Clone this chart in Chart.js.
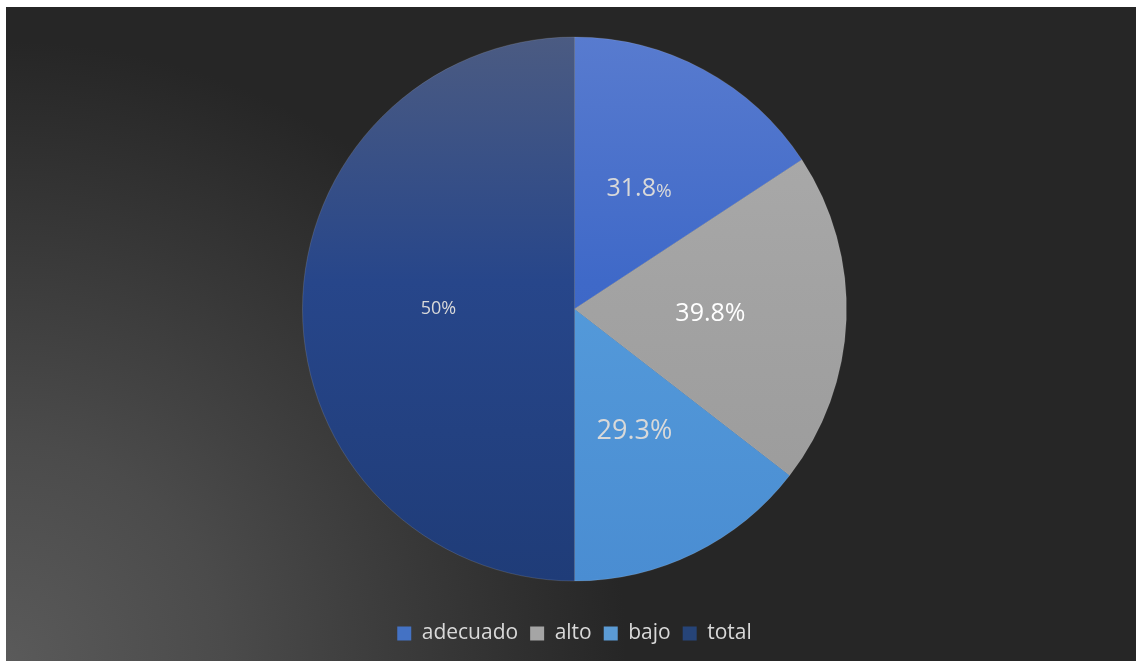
<!DOCTYPE html>
<html>
<head>
<meta charset="utf-8">
<script src="https://cdn.jsdelivr.net/npm/chart.js@4"></script>
<style>
  html, body { margin: 0; padding: 0; background: #ffffff; }
  #wrap { width: 1136px; height: 661px; position: relative; }
</style>
</head>
<body>
<div id="wrap"><canvas id="chart"></canvas></div>
<script>
// Chart data
const categories = ['adecuado', 'alto', 'bajo', 'total'];
const values = [31.8, 39.8, 29.3, 100.9];

// colour stops (top -> bottom of the pie) per slice
const sliceColors = [
    ['#587bcf', '#3f69c8', '#3660c2'],
    ['#adadad', '#a3a3a3', '#999999'],
    ['#5ca1e0', '#549ada', '#4a8dd2'],
    ['#4b5b82', '#27468a', '#1f3c78']
];
const legendColors = ['#4472c4', '#a5a5a5', '#5b9bd5', '#264478'];

function sliceGradient(ctx) {
    const chart = ctx.chart;
    const area = chart.chartArea;
    const c = sliceColors[ctx.dataIndex];
    if (!area) return c[1];
    const cy = (area.top + area.bottom) / 2;
    const r = Math.min(area.right - area.left, area.bottom - area.top) / 2;
    if (!isFinite(cy) || !isFinite(r) || r <= 0) return c[1];
    const g = chart.ctx.createLinearGradient(0, cy - r, 0, cy + r);
    g.addColorStop(0, c[0]);
    g.addColorStop(0.45, c[1]);
    g.addColorStop(1, c[2]);
    return g;
}

// dark background with lighter glow in the bottom-left corner
const backgroundPlugin = {
    id: 'bg',
    beforeDraw(chart) {
        const ctx = chart.ctx;
        ctx.save();
        ctx.fillStyle = '#ffffff';
        ctx.fillRect(0, 0, chart.width, chart.height);
        const g = ctx.createRadialGradient(6, chart.height, 0, 6, chart.height, 620);
        g.addColorStop(0, '#5a5a5a');
        g.addColorStop(0.35, '#4b4b4b');
        g.addColorStop(1, '#262626');
        ctx.fillStyle = g;
        ctx.fillRect(6, 7, chart.width - 6, chart.height - 7);
        ctx.restore();
    }
};

// value labels inside the slices
const labelStyles = [
    { size: 25, pct: 19, color: '#d9d9d9' },
    { size: 25, pct: 25, color: '#ffffff' },
    { size: 27, pct: 27, color: '#d9d9d9' },
    { size: 18, pct: 18, color: '#d9d9d9' }
];

const sliceLabelPlugin = {
    id: 'sliceLabels',
    afterDatasetsDraw(chart) {
        const ctx = chart.ctx;
        const meta = chart.getDatasetMeta(0);
        const data = chart.data.datasets[0].data;
        const sum = data.reduce((a, b) => a + b, 0);
        ctx.save();
        ctx.textBaseline = 'middle';
        meta.data.forEach((arc, i) => {
            const p = arc.tooltipPosition();
            const st = labelStyles[i];
            const num = i === data.length - 1 ? String(Math.round(data[i] / sum * 100)) : data[i].toFixed(1);
            ctx.font = st.size + 'px "Open Sans"';
            const w1 = ctx.measureText(num).width;
            ctx.font = st.pct + 'px "Open Sans"';
            const w2 = ctx.measureText('%').width;
            let x = p.x - (w1 + w2) / 2;
            ctx.fillStyle = st.color;
            ctx.textAlign = 'left';
            ctx.font = st.size + 'px "Open Sans"';
            ctx.fillText(num, x, p.y);
            ctx.font = st.pct + 'px "Open Sans"';
            ctx.fillText('%', x + w1, p.y + (st.size - st.pct) * 0.3);
        });
        ctx.restore();
    }
};

new Chart(document.getElementById('chart'), {
    type: 'pie',
    data: {
        labels: categories,
        datasets: [{
            data: values,
            backgroundColor: sliceGradient,
            borderWidth: 1,
            borderColor: 'rgba(255,255,255,0.12)'
        }]
    },
    options: {
        responsive: true,
        maintainAspectRatio: false,
        animation: false,
        layout: { padding: { top: 7, left: 302, right: 289, bottom: 7 } },
        plugins: {
            legend: {
                position: 'bottom',
                labels: {
                    color: '#d9d9d9',
                    font: { family: 'Open Sans', size: 21 },
                    boxWidth: 14,
                    boxHeight: 14,
                    padding: 12,
                    generateLabels(chart) {
                        return chart.data.labels.map((l, i) => ({
                            text: l,
                            fillStyle: legendColors[i],
                            strokeStyle: legendColors[i],
                            lineWidth: 0,
                            fontColor: '#d9d9d9',
                            index: i,
                            hidden: false
                        }));
                    }
                }
            },
            tooltip: { enabled: false }
        }
    },
    plugins: [backgroundPlugin, sliceLabelPlugin]
});
</script>
</body>
</html>
